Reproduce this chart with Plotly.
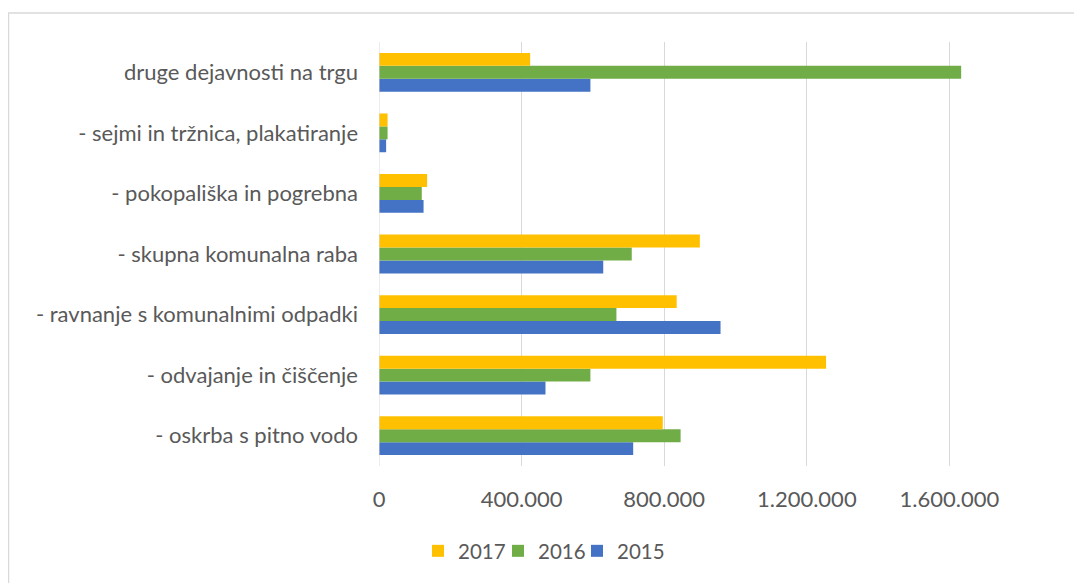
import plotly.graph_objects as go

categories = [
    "- oskrba s pitno vodo",
    "- odvajanje in čiščenje",
    "- ravnanje s komunalnimi odpadki",
    "- skupna komunalna raba",
    "- pokopališka in pogrebna",
    "- sejmi in tržnica, plakatiranje",
    "druge dejavnosti na trgu",
]
v2015 = [713000, 467000, 958000, 629000, 125000, 20000, 593000]
v2016 = [846000, 593000, 666000, 709000, 120000, 24000, 1633000]
v2017 = [796000, 1254000, 835000, 900000, 135000, 24000, 424000]
tick_vals = [0, 400000, 800000, 1200000, 1600000]
tick_text = ["0", "400.000", "800.000", "1.200.000", "1.600.000"]

OFF = 8  # page body margin
W, H = 1082 - OFF, 583 - OFF
L, R, T, B = 379 - OFF, 0, 42 - OFF, 117
font_family = "Lato"
fsize = 22
lsize = 20.5
grey = "#595959"

pw = W - L - R
ph = H - T - B

series = [("2015", v2015, "#4472C4", "legend3", 596),
          ("2016", v2016, "#70AD47", "legend2", 517),
          ("2017", v2017, "#FFC000", "legend", 437)]

fig = go.Figure()
legends = {}
for name, vals, col, leg, sym_left in series:
    fig.add_trace(go.Bar(y=categories, x=vals, name=name, orientation="h", legend=leg,
                         marker=dict(color=col, line=dict(width=0))))
    legends[leg] = dict(orientation="h", x=(sym_left - 19 - OFF - L) / pw, xanchor="left",
                        yref="container", y=(583 - 551) / H, yanchor="middle",
                        font=dict(size=lsize, color=grey), itemwidth=30,
                        bgcolor="rgba(0,0,0,0)")

x0p = (0.5 - L) / pw
y0p = (H - B - (13 - OFF)) / ph

fig.update_layout(
    width=W, height=H,
    margin=dict(l=L, r=R, t=T, b=B, pad=0),
    paper_bgcolor="white", plot_bgcolor="white",
    barmode="group", bargap=0.36, bargroupgap=0,
    font=dict(family=font_family, size=fsize, color=grey),
    showlegend=True,
    **legends,
    xaxis=dict(range=[0, pw / 0.3565 * 1000], tickvals=tick_vals, ticktext=tick_text,
               showgrid=True, gridcolor="#d9d9d9", gridwidth=1, zeroline=False,
               showline=False, ticks="", ticklabelstandoff=18, automargin=False,
               tickfont=dict(size=fsize, color=grey)),
    yaxis=dict(showgrid=False, zeroline=False, showline=False, ticks="", automargin=False,
               ticklabelstandoff=20, tickfont=dict(size=fsize, color=grey)),
    shapes=[
        dict(type="line", xref="x", yref="paper", x0=0, x1=0, y0=0, y1=1,
             line=dict(color="#d9d9d9", width=1)),
        dict(type="rect", xref="paper", yref="paper", x0=x0p, x1=1.05, y0=-0.5, y1=y0p,
             line=dict(color="#d9d9d9", width=1.5), fillcolor="rgba(0,0,0,0)", layer="below"),
    ],
)
fig.write_html("out.html")
